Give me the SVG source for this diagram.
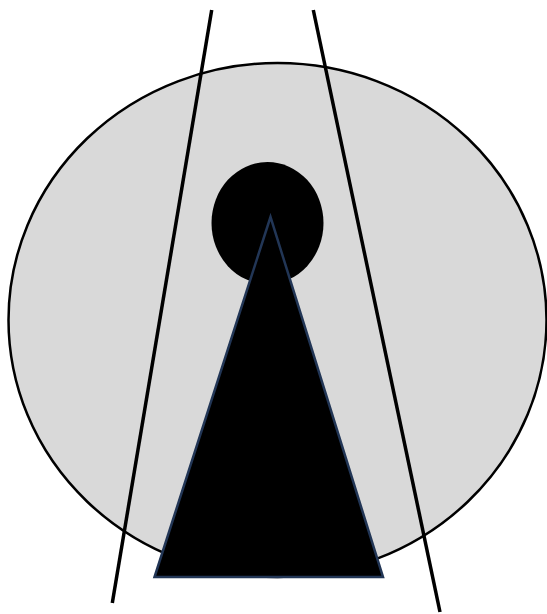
<svg xmlns="http://www.w3.org/2000/svg" width="547" height="614" viewBox="0 0 547 614">
<style>
.line{stroke:#000;stroke-width:3.5;fill:none}
</style>
<rect width="547" height="614" fill="#fff"/>
<g id="disc"><ellipse cx="277.5" cy="320" rx="269" ry="257" fill="#d9d9d9" stroke="#000" stroke-width="2.5"/></g>
<g id="head"><ellipse cx="267.5" cy="223" rx="56" ry="61" fill="#000"/></g>
<g id="body"><polygon points="270.5,217 154.5,577 383,577" fill="#000" stroke="#223656" stroke-width="2.5" stroke-linejoin="miter"/></g>
<g id="connectors">
<line class="line" x1="211.7" y1="10" x2="112.3" y2="603"/>
<line class="line" x1="313.3" y1="10" x2="440" y2="612"/>
</g>
</svg>
